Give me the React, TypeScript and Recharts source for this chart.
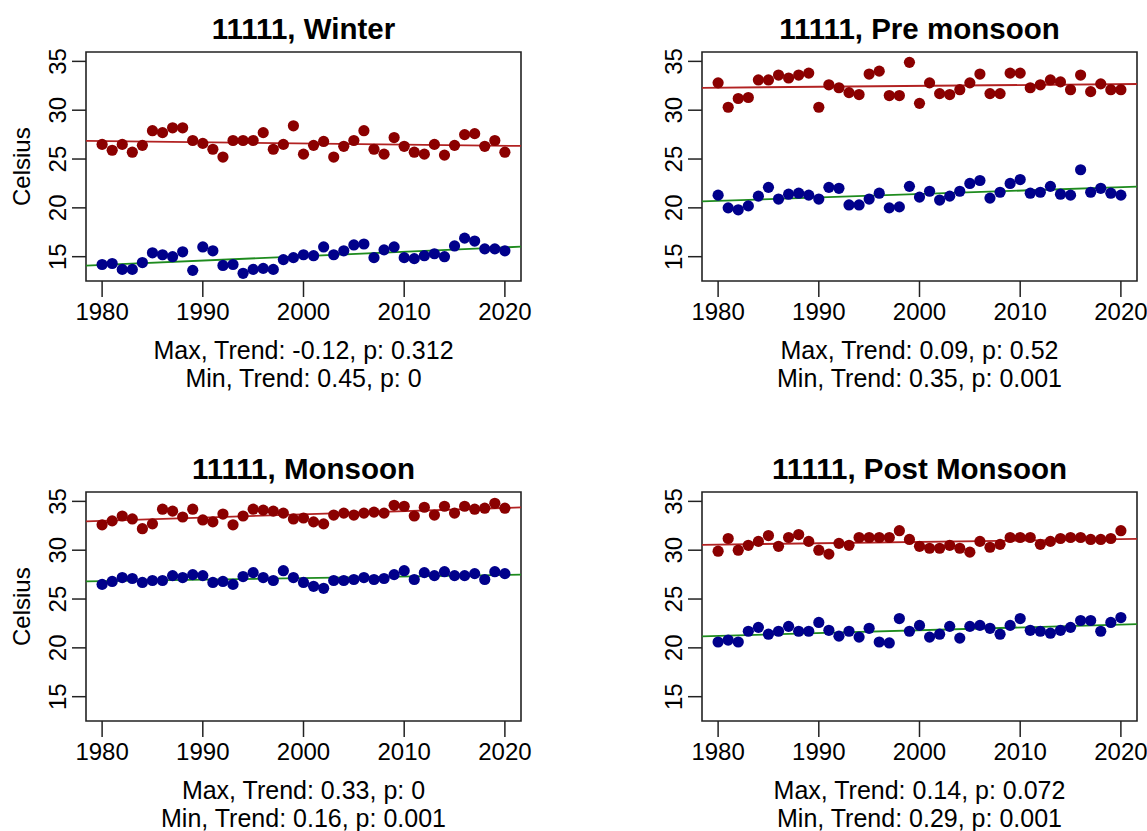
import React from 'react';
import { ScatterChart, Scatter, XAxis, YAxis, ReferenceArea, ReferenceLine } from 'recharts';

const years = Array.from({ length: 41 }, (_, i) => 1980 + i);
const station = '11111';
const seasons = ['Winter', 'Pre monsoon', 'Monsoon', 'Post Monsoon'];

const winterMax = [26.5, 25.9, 26.5, 25.7, 26.4, 27.9, 27.7, 28.2, 28.2, 26.9, 26.6, 26.0, 25.2, 26.9, 26.9, 26.9, 27.7, 26.0, 26.5, 28.4, 25.5, 26.4, 26.8, 25.2, 26.3, 26.9, 27.9, 26.0, 25.5, 27.2, 26.3, 25.7, 25.5, 26.5, 25.4, 26.4, 27.5, 27.6, 26.3, 26.9, 25.7];
const winterMin = [14.2, 14.3, 13.7, 13.7, 14.4, 15.4, 15.2, 15.0, 15.5, 13.6, 16.0, 15.6, 14.1, 14.2, 13.3, 13.7, 13.8, 13.7, 14.7, 14.9, 15.2, 15.1, 16.0, 15.2, 15.6, 16.2, 16.3, 14.9, 15.7, 16.0, 14.9, 14.8, 15.1, 15.3, 15.0, 16.1, 16.9, 16.6, 15.8, 15.8, 15.6];
const preMax = [32.8, 30.3, 31.2, 31.3, 33.1, 33.1, 33.6, 33.3, 33.6, 33.8, 30.3, 32.6, 32.3, 31.8, 31.6, 33.7, 34.0, 31.5, 31.5, 34.9, 30.7, 32.8, 31.7, 31.6, 32.1, 32.8, 33.7, 31.7, 31.7, 33.8, 33.8, 32.3, 32.6, 33.1, 32.9, 32.1, 33.6, 31.9, 32.7, 32.1, 32.1];
const preMin = [21.3, 20.0, 19.8, 20.2, 21.2, 22.1, 20.9, 21.4, 21.5, 21.3, 20.9, 22.1, 22.0, 20.3, 20.3, 20.9, 21.5, 20.0, 20.1, 22.2, 21.1, 21.7, 20.8, 21.2, 21.7, 22.5, 22.8, 21.0, 21.6, 22.5, 22.9, 21.5, 21.6, 22.2, 21.4, 21.3, 23.9, 21.6, 22.0, 21.5, 21.3];
const monMax = [32.6, 33.0, 33.5, 33.2, 32.2, 32.7, 34.2, 34.0, 33.4, 34.2, 33.1, 32.9, 33.7, 32.6, 33.5, 34.2, 34.1, 34.0, 33.8, 33.2, 33.3, 32.9, 32.7, 33.6, 33.8, 33.6, 33.8, 33.9, 33.8, 34.6, 34.5, 33.5, 34.4, 33.6, 34.5, 33.8, 34.5, 34.2, 34.3, 34.8, 34.3];
const monMin = [26.5, 26.8, 27.2, 27.1, 26.7, 26.9, 26.9, 27.4, 27.2, 27.5, 27.4, 26.7, 26.8, 26.5, 27.3, 27.7, 27.2, 26.9, 27.9, 27.2, 26.7, 26.3, 26.1, 26.9, 26.9, 27.0, 27.2, 27.0, 27.1, 27.5, 27.9, 27.0, 27.7, 27.4, 27.8, 27.4, 27.4, 27.6, 27.0, 27.8, 27.6];
const postMax = [29.9, 31.2, 30.0, 30.5, 30.9, 31.5, 30.4, 31.3, 31.6, 30.9, 30.0, 29.6, 30.7, 30.5, 31.3, 31.3, 31.3, 31.3, 32.0, 31.1, 30.4, 30.2, 30.2, 30.5, 30.2, 29.8, 30.9, 30.3, 30.6, 31.3, 31.3, 31.3, 30.6, 30.9, 31.2, 31.3, 31.3, 31.1, 31.1, 31.2, 32.0];
const postMin = [20.6, 20.8, 20.6, 21.7, 22.1, 21.4, 21.7, 22.2, 21.7, 21.7, 22.6, 21.8, 21.2, 21.7, 21.1, 22.0, 20.6, 20.5, 23.0, 21.7, 22.3, 21.1, 21.4, 22.2, 21.0, 22.2, 22.3, 22.0, 21.4, 22.3, 23.0, 21.8, 21.7, 21.5, 21.8, 22.1, 22.8, 22.8, 21.7, 22.6, 23.1];

// trend per decade and p-values, as printed under each panel
const maxTrend = [-0.12, 0.09, 0.33, 0.14];
const maxP = ['0.312', '0.52', '0', '0.072'];
const minTrend = [0.45, 0.35, 0.16, 0.29];
const minP = ['0', '0.001', '0.001', '0.001'];

const maxSeries = [winterMax, preMax, monMax, postMax];
const minSeries = [winterMin, preMin, monMin, postMin];

const xTicks = [1980, 1990, 2000, 2010, 2020];
const yTicks = [15, 20, 25, 30, 35];

const X_DOMAIN: [number, number] = [1978.4, 2021.6];
const Y_DOMAIN: [number, number] = [12.51, 35.96];
const FONT = '"Liberation Sans", Arial, sans-serif';

const MAX_COL = '#8B0000';
const MIN_COL = '#00008B';
const MAX_LINE = '#B22222';
const MIN_LINE = '#1E8B1E';
const AXIS_COL = '#222';

const mean = (a: number[]) => a.reduce((s, v) => s + v, 0) / a.length;

function trendSegment(vals: number[], perDecade: number) {
  const mx = mean(years);
  const my = mean(vals);
  const b = perDecade / 10;
  return [
    { x: X_DOMAIN[0], y: my + b * (X_DOMAIN[0] - mx) },
    { x: X_DOMAIN[1], y: my + b * (X_DOMAIN[1] - mx) },
  ];
}

const toPoints = (vals: number[]) => years.map((year, i) => ({ year, t: vals[i] }));

const YTick = ({ x, y, payload }: any) => (
  <text x={x} y={y} transform={`rotate(-90 ${x} ${y})`} textAnchor="middle" fontSize={24} fontFamily={FONT} fill="#000">
    {payload.value}
  </text>
);

const dot = (color: string) => (props: any) => <circle cx={props.cx} cy={props.cy} r={5.6} fill={color} />;

const COLS = [0, 616];
const ROWS = [0, 440];
const BOX_LEFT = 86;
const BOX_W = 435;

function Panel({ idx }: { idx: number }) {
  const left = COLS[idx % 2];
  const top = ROWS[Math.floor(idx / 2)];
  return (
    <div style={{ position: 'absolute', left, top }}>
      <ScatterChart width={BOX_LEFT + BOX_W + 32} height={330} margin={{ top: 52, right: 32, bottom: 0, left: 0 }}>
        <XAxis
          type="number"
          dataKey="year"
          domain={X_DOMAIN}
          allowDataOverflow
          ticks={xTicks}
          height={49}
          axisLine={false}
          tickSize={16}
          tickMargin={6}
          tickLine={{ stroke: AXIS_COL, strokeWidth: 1.5 }}
          tick={{ fontSize: 24, fill: '#000', fontFamily: FONT }}
        />
        <YAxis
          type="number"
          dataKey="t"
          domain={Y_DOMAIN}
          allowDataOverflow
          ticks={yTicks}
          width={BOX_LEFT}
          axisLine={false}
          tickSize={14}
          tickMargin={6}
          tickLine={{ stroke: AXIS_COL, strokeWidth: 1.5 }}
          tick={<YTick />}
        />
        <ReferenceArea x1={X_DOMAIN[0]} x2={X_DOMAIN[1]} y1={Y_DOMAIN[0]} y2={Y_DOMAIN[1]} fill="none" stroke={AXIS_COL} strokeWidth={1.6} fillOpacity={0} />
        <Scatter data={toPoints(maxSeries[idx])} shape={dot(MAX_COL)} isAnimationActive={false} />
        <Scatter data={toPoints(minSeries[idx])} shape={dot(MIN_COL)} isAnimationActive={false} />
        <ReferenceLine segment={trendSegment(maxSeries[idx], maxTrend[idx])} stroke={MAX_LINE} strokeWidth={1.8} />
        <ReferenceLine segment={trendSegment(minSeries[idx], minTrend[idx])} stroke={MIN_LINE} strokeWidth={1.8} />
      </ScatterChart>
    </div>
  );
}

function Labels() {
  return (
    <svg width={1147} height={831} style={{ position: 'absolute', left: 0, top: 0, pointerEvents: 'none' }} fontFamily={FONT}>
      {seasons.map((s, idx) => {
        const cx = COLS[idx % 2] + BOX_LEFT + BOX_W / 2;
        const top = ROWS[Math.floor(idx / 2)];
        return (
          <g key={s}>
            <text x={cx} y={top + 38.5} textAnchor="middle" fontSize={29.5} fontWeight="bold" fill="#000">
              {`${station}, ${s}`}
            </text>
            <text x={cx} y={top + 358.5} textAnchor="middle" fontSize={25} fill="#000">
              {`Max, Trend: ${maxTrend[idx]}, p: ${maxP[idx]}`}
            </text>
            <text x={cx} y={top + 387} textAnchor="middle" fontSize={25} fill="#000">
              {`Min, Trend: ${minTrend[idx]}, p: ${minP[idx]}`}
            </text>
            {idx % 2 === 0 && (
              <text x={30} y={top + 166.7} transform={`rotate(-90 30 ${top + 166.7})`} textAnchor="middle" fontSize={24} fill="#000">
                Celsius
              </text>
            )}
          </g>
        );
      })}
    </svg>
  );
}

export default function App() {
  return (
    <div style={{ position: 'absolute', left: 0, top: 0, width: 1147, height: 831, overflow: 'hidden', background: '#fff' }}>
      {seasons.map((s, idx) => (
        <Panel key={s} idx={idx} />
      ))}
      <Labels />
    </div>
  );
}
